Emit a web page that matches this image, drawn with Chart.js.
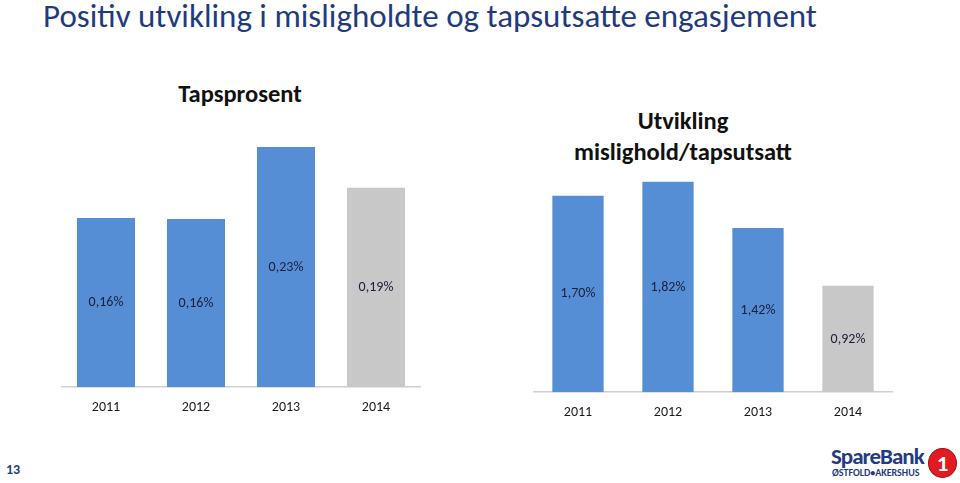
<!DOCTYPE html>
<html lang="no">
<head>
    <meta charset="UTF-8">
    <title>Positiv utvikling i misligholdte og tapsutsatte engasjement</title>
    <script src="https://cdn.jsdelivr.net/npm/chart.js"></script>
    <style>
        body {
            margin: 0;
            width: 960px;
            height: 483px;
            background: #fff;
            font-family: Calibri, Carlito, Lato, "Open Sans", sans-serif;
            position: relative;
            overflow: hidden;
        }
        .title {
            position: absolute;
            left: 43px;
            top: -4px;
            font-size: 33px;
            color: #1f3b7e;
            white-space: nowrap;
        }
        .sub {
            position: absolute;
            text-align: center;
            font-size: 24.5px;
            font-weight: bold;
            color: #111;
            line-height: 31px;
        }
        .box {
            position: absolute;
        }
        .page-no {
            position: absolute;
            left: 6px;
            top: 461px;
            font-size: 14px;
            font-weight: bold;
            color: #1f3b86;
        }
        .logo-text {
            position: absolute;
            left: 831px;
            top: 442px;
            font-size: 23px;
            font-weight: bold;
            color: #1f3b86;
            letter-spacing: -1px;
        }
        .logo-sub {
            position: absolute;
            left: 832px;
            top: 466px;
            font-size: 10px;
            font-weight: bold;
            color: #1f3b86;
        }
        .logo-one {
            position: absolute;
            left: 928px;
            top: 448px;
            width: 27px;
            height: 28px;
            border-radius: 50%;
            background: #e21b23;
            border: 1px solid #9e1016;
            color: #fff;
            font-weight: bold;
            font-size: 23px;
            text-align: center;
            line-height: 28px;
        }
    </style>
</head>
<body>
    <div class="title">Positiv utvikling i misligholdte og tapsutsatte engasjement</div>
    <div class="sub" style="left:140px; top:79px; width:200px;">Tapsprosent</div>
    <div class="sub" style="left:533px; top:106px; width:300px;">Utvikling<br>mislighold/tapsutsatt</div>

    <div class="box" style="left:61px; top:123px; width:360px; height:297px;"><canvas id="tapChart"></canvas></div>
    <div class="box" style="left:533px; top:158px; width:360px; height:267px;"><canvas id="misChart"></canvas></div>

    <div class="page-no">13</div>
    <div class="logo-text">SpareBank</div>
    <div class="logo-sub">ØSTFOLD•AKERSHUS</div>
    <div class="logo-one">1</div>

    <script>
        // data
        const years = ['2011', '2012', '2013', '2014'];
        const tapsprosent = [0.162, 0.161, 0.23, 0.191];
        const mislighold = [1.70, 1.82, 1.42, 0.92];

        const blue = '#558ed5';
        const grey = '#c8c8c8';
        const barColors = [blue, blue, blue, grey];

        // tekst midt i hver stolpe
        const midLabels = {
            id: 'midLabels',
            afterDatasetsDraw(chart) {
                const ctx = chart.ctx;
                const ds = chart.data.datasets[0];
                const meta = chart.getDatasetMeta(0);
                ctx.save();
                ctx.font = '14px Calibri, Carlito, Lato, sans-serif';
                ctx.fillStyle = '#1b1f3b';
                ctx.textAlign = 'center';
                ctx.textBaseline = 'middle';
                meta.data.forEach((bar, i) => {
                    const y = (bar.y + bar.base) / 2;
                    ctx.fillText(ds.data[i].toFixed(2).replace('.', ',') + '%', bar.x, y);
                });
                ctx.restore();
            }
        };

        function makeChart(id, values, yMax, barPct) {
            return new Chart(document.getElementById(id), {
                type: 'bar',
                data: {
                    labels: years,
                    datasets: [{
                        data: values,
                        backgroundColor: barColors,
                        categoryPercentage: 1,
                        barPercentage: barPct
                    }]
                },
                options: {
                    responsive: true,
                    maintainAspectRatio: false,
                    animation: false,
                    layout: { padding: 0 },
                    plugins: {
                        legend: { display: false },
                        tooltip: { enabled: false }
                    },
                    scales: {
                        x: {
                            grid: { display: false },
                            border: { color: '#d0d0d0', width: 1.5 },
                            ticks: {
                                color: '#1a1a1a',
                                padding: 4,
                                font: { size: 14, family: 'Calibri, Carlito, Lato, sans-serif' }
                            }
                        },
                        y: {
                            display: false,
                            min: 0,
                            max: yMax
                        }
                    }
                },
                plugins: [midLabels]
            });
        }

        makeChart('tapChart', tapsprosent, 0.253, 0.645);
        makeChart('misChart', mislighold, 2.026, 0.57);
    </script>
</body>
</html>
